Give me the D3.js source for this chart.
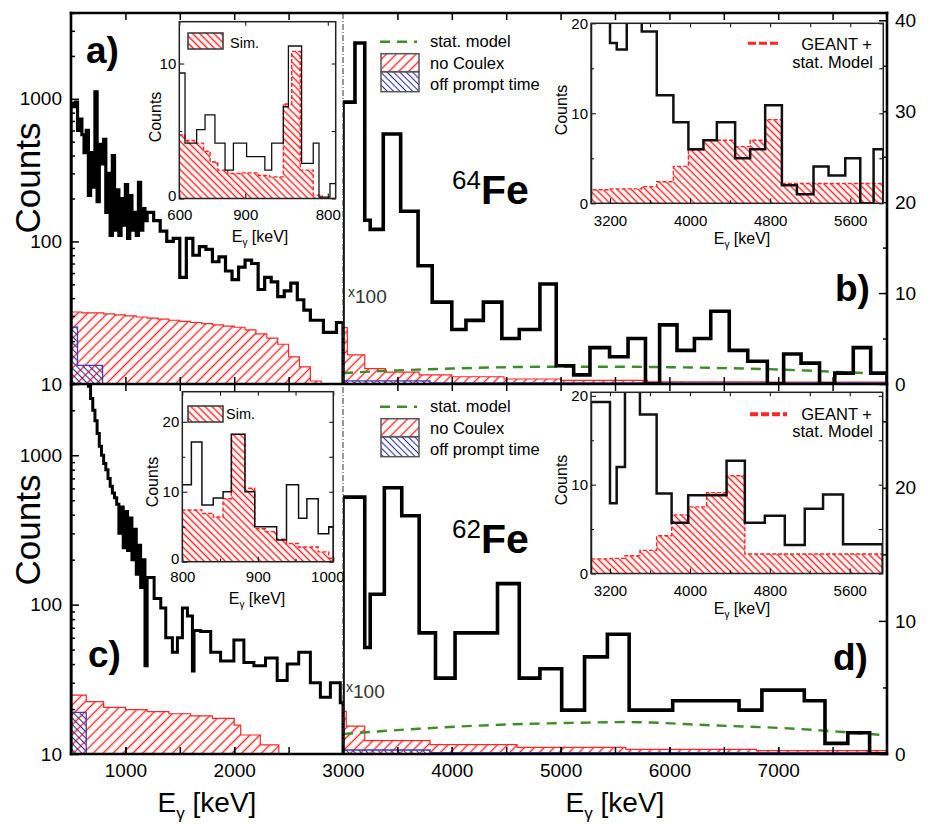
<!DOCTYPE html>
<html><head><meta charset="utf-8">
<script src="https://cdn.jsdelivr.net/npm/d3@7"></script>
<style>body{margin:0;background:#fff}svg{display:block}</style>
</head><body><svg id="c" width="931" height="824"></svg>
<script>
// ================= DATA =================
// Panel a) 64Fe, 500-3000 keV, log counts
const aBlackEdges = [500,520,540,560,580,600,620,640,660,680,700,720,740,760,780,800,820,840,860,880,900,920,940,960,980,1000,1020,1040,1060,1080,1100,1120,1140,1160,1180,1200,
  1260,1320,1380,1440,1500,1560,1620,1680,1740,1800,1860,1920,1980,2040,2100,2160,2220,2280,2340,2400,2460,2520,2580,2640,2700,2760,2820,2880,2940,3000];
const aBlackCounts = [930,880,950,600,720,560,420,600,210,420,240,1120,190,480,350,520,160,300,110,400,120,230,110,200,130,250,105,210,120,160,110,260,120,170,140,
  160,140,118,100,105,56,105,80,92,88,72,78,62,54,66,74,70,46,56,52,41,45,51,39,33,28,28,23,23,27];
const aRedEdges = [500,600,700,800,900,1000,1100,1200,1300,1400,1500,1600,1700,1800,1900,2000,2100,2200,2300,2400,2500,2600,2700,2800];
const aRedCounts = [32,31.5,31.5,31,30.5,30,29.5,29,28.5,28,27.5,27,26.5,26,25.5,25,24,22.5,21,19,15.5,13.2,10.5];
const aBlueEdges = [500,560,790];
const aBlueCounts = [25,13.5];

// Panel b) 64Fe, 3000-8000 keV, linear (x100)
const bBlackEdges = [3000,3110,3200,3250,3370,3530,3690,3820,4000,4130,4290,4460,4620,4810,4960,5120,5270,5450,5620,5780,5910,6070,6230,6380,6550,6720,6900,7050,7210,7380,7520,7690,7850,8000];
const bBlackCounts = [31,37.5,18,17,27.5,19,13,9,6,7,9,5,6,11,2,1,4,3,5,0,6.5,3.7,5,8,3.7,2.5,0,3.3,2.3,0,1.2,4,1.2];
const bRedEdges = [3000,3040,3200,3390,3700,4000,4480,5000,5800,6900,8000];
const bRedCounts = [6.2,3.2,1.7,1.3,1.0,0.8,0.55,0.4,0.25,0.2];
const bBlueEdges = [3000,3800,8000];
const bBlueCounts = [0.35,0.12];
const bStatE = [3000,3500,4000,4500,5000,5500,6000,6500,7000,7500,8000];
const bStatV = [1.2,1.5,1.7,1.85,1.9,1.9,1.85,1.75,1.6,1.35,1.1];

// Panel c) 62Fe, 500-3000 keV, log counts
const cBlackEdges = [500,520,540,560,580,600,620,640,660,680,700,720,740,760,780,800,820,840,860,880,900,920,940,960,980,1000,1020,1040,1060,1080,1100,1120,1140,1160,1180,1200,
  1264,1325,1371,1432,1478,1524,1570,1616,1631,1692,1784,1875,1997,2089,2181,2288,2395,2487,2593,2700,2792,2884,2975,3000];
const cBlackCounts = [9000,8000,7000,6000,5200,4500,3900,3400,2900,2400,2000,1700,1400,1150,1000,880,800,700,620,560,520,470,300,450,240,420,230,380,200,320,160,250,130,200,39,
  152,110,95,60,48,60,95,84,36,67,66,48,42,58,41,39,44,31,40,48,30,24,30,22];
const cRedEdges = [500,640,800,1000,1200,1400,1600,1800,2000,2060,2240,2410];
const cRedCounts = [24.8,22.4,20.5,19.8,19.2,18.6,18,17.3,15.6,13.4,11.5];
const cBlueEdges = [500,640];
const cBlueCounts = [19];

// Panel d) 62Fe, 3000-8000 keV, linear (x100)
const dBlackEdges = [3000,3200,3250,3380,3540,3700,3850,4030,4420,4620,4810,5010,5220,5430,5630,6030,6640,6850,7240,7430,7640,7840,8000];
const dBlackCounts = [19.3,8,12,20,17.9,9.1,5.7,9.1,12.8,5.7,6.4,3.3,7.3,9,3.3,4,3.3,4.8,4,0.8,1.6,0];
const dRedEdges = [3000,3030,3200,3800,4600,5600,6800,8000];
const dRedCounts = [3.2,2.1,1.0,0.7,0.5,0.35,0.25];
const dBlueEdges = [3000,3800,8000];
const dBlueCounts = [0.3,0.1];
const dStatE = [3000,3700,4450,5200,5600,6400,7150,7600,8000];
const dStatV = [1.5,1.9,2.2,2.35,2.4,2.15,1.9,1.65,1.4];

// Insets
const iaBlackEdges = [600,626,679,717,762,808,846,906,989,1020,1073,1096,1156,1209,1235,1285,1311];
const iaBlackCounts = [9.3,4.1,5.1,6.2,4.1,2.1,4.1,3.1,2.1,4.1,6.8,11.3,2.6,4.1,0.1,1.1];
const iaRedEdges = [600,626,670,710,740,775,820,880,960,1010,1073,1111,1150,1209,1250,1311];
const iaRedCounts = [4.7,4.3,4.1,3.5,2.7,2.1,1.85,1.9,1.7,1.6,7.0,10.9,2.1,0.25,0];
const iaTickValues = [600,900,1275];
const iaTickLabels = ["600","900","800"];

const ibBlackEdges = [3010,3200,3267,3367,3517,3667,3833,3983,4133,4267,4450,4600,4750,4917,5067,5233,5383,5550,5700,5833,5930];
const ibBlackCounts = [25,17.8,17.1,25,19.1,12,9,6,7,9,5,6,10.9,2,1,4.1,3.1,5,0,6];
const ibRedEdges = [3010,3200,3517,3667,3833,3983,4133,4450,4600,4750,4917,5930];
const ibRedCounts = [1.5,1.6,1.85,2.4,4.1,5.9,7.0,6.3,7.0,9.3,2.2];

const icBlackEdges = [800,812,826,841,854,865,883,896,925,938,954,965,980,994,1000];
const icBlackCounts = [11,17.1,8.1,9.1,10,18.2,10,5,3.1,11,6.2,9,4,5];
const icRedEdges = [800,826,841,854,865,883,896,910,925,938,954,980,994,1000];
const icRedCounts = [7.4,6.9,6.4,9.0,18.2,10.5,4.7,4.3,3.2,2.6,2.1,1.4,0.5];

const idBlackEdges = [3010,3200,3267,3350,3500,3667,3817,3983,4367,4550,4750,4950,5150,5333,5533,5930];
const idBlackCounts = [19.3,7.9,12,25,17.9,9,5.7,8.8,12.7,5.7,6.5,3.2,7.3,8.9,3.3];
const idRedEdges = [3010,3200,3350,3500,3667,3817,3983,4167,4367,4550,5930];
const idRedCounts = [1.65,1.7,2.0,2.6,4.25,6.6,7.5,9.1,11.0,2.2];

const logTicks = [10,100,1000];
const logMinorTop = [20,30,40,50,60,70,80,90,200,300,400,500,600,700,800,900,2000,3000,4000];
const logMinorBot = [20,30,40,50,60,70,80,90,200,300,400,500,600,700,800,900,2000,3000];
const leftXLabeled = [1000,2000,3000];
const leftXTicks = [1000,1500,2000,2500];
const rightXLabeled = [4000,5000,6000,7000];
const rightXTicks = [3500,4000,4500,5000,5500,6000,6500,7000,7500];
const bRightTicks = [0,10,20,30,40];
const dRightTicks = [0,10,20];

// ================= DRAW =================
const FF = "'Liberation Sans', Arial, Helvetica, sans-serif";
const RED = "#ff2626", BLUE = "#2e2e9c", GREEN = "#3f8a2a";
const svg = d3.select("#c").attr("font-family", FF);
const X0 = 71, XM = 343, X1 = 887, YT = 13, YMID = 384, YB = 754;

const xL = d3.scaleLinear().domain([500,3000]).range([X0,XM]);
const xR = d3.scaleLinear().domain([3000,8000]).range([XM,X1]);
const yA = d3.scaleLog().domain([10,4000]).range([YMID,YT]);
const yB = d3.scaleLinear().domain([0,40.8]).range([YMID,YT]);
const yC = d3.scaleLog().domain([10,3000]).range([YB,YMID]);
const yD = d3.scaleLinear().domain([0,27.8]).range([YB,YMID]);

const defs = svg.append("defs");
function hatch(id, color, sp, angle, w){
  const p = defs.append("pattern").attr("id",id).attr("patternUnits","userSpaceOnUse")
    .attr("width",sp).attr("height",sp).attr("patternTransform",`rotate(${angle})`);
  p.append("line").attr("x1",sp/2).attr("y1",-1).attr("x2",sp/2).attr("y2",sp+1)
    .attr("stroke",color).attr("stroke-width",w);
}
hatch("hRed", RED, 7, 45, 1.4);
hatch("hBlue", BLUE, 4.5, -45, 1.1);
hatch("hInset", RED, 5, -45, 1.5);

let clipN = 0;
function clip(x0,y0,x1,y1){
  const id = "cl"+(clipN++);
  defs.append("clipPath").attr("id",id).append("rect").attr("x",x0).attr("y",y0).attr("width",x1-x0).attr("height",y1-y0);
  return `url(#${id})`;
}

function histPath(x, y, edges, vals, base){
  const p = d3.path();
  p.moveTo(x(edges[0]), base);
  vals.forEach((v,i)=>{ const yy = Math.max(-2000, Math.min(2000, y(v))); p.lineTo(x(edges[i]), yy); p.lineTo(x(edges[i+1]), yy); });
  p.lineTo(x(edges[edges.length-1]), base);
  return p.toString();
}
function safeLog(y){ return v => v <= 0 ? 5000 : y(v); }

function panel(o){
  const g = svg.append("g").attr("clip-path", clip(o.x0, o.y0, o.x1, o.y1));
  const yy = o.log ? safeLog(o.y) : o.y;
  g.append("path").attr("d", histPath(o.x, yy, o.redE, o.redV, o.y1+2)).attr("fill","url(#hRed)")
    .attr("stroke", RED).attr("stroke-width",1.2);
  g.append("path").attr("d", histPath(o.x, yy, o.blueE, o.blueV, o.y1+2)).attr("fill","url(#hBlue)")
    .attr("stroke", "#3d3db8").attr("stroke-width",1.3);
  if (o.statE){
    const line = d3.line().x((d,i)=>o.x(o.statE[i])).y(d=>o.y(d)).curve(d3.curveMonotoneX);
    g.append("path").attr("d", line(o.statV)).attr("fill","none").attr("stroke",GREEN)
      .attr("stroke-width",2.4).attr("stroke-dasharray","10,7");
  }
  g.append("path").attr("d", histPath(o.x, yy, o.blackE, o.blackV, o.y1+2)).attr("fill","none")
    .attr("stroke","#000").attr("stroke-width",o.lw).attr("stroke-linejoin","miter");
}

panel({x:xL, y:yA, log:true, x0:X0, x1:XM, y0:YT, y1:YMID, redE:aRedEdges, redV:aRedCounts, blueE:aBlueEdges, blueV:aBlueCounts, blackE:aBlackEdges, blackV:aBlackCounts, lw:3.2});
panel({x:xR, y:yB, log:false, x0:XM, x1:X1, y0:YT, y1:YMID, redE:bRedEdges, redV:bRedCounts, blueE:bBlueEdges, blueV:bBlueCounts, blackE:bBlackEdges, blackV:bBlackCounts, statE:bStatE, statV:bStatV, lw:3.6});
panel({x:xL, y:yC, log:true, x0:X0, x1:XM, y0:YMID, y1:YB, redE:cRedEdges, redV:cRedCounts, blueE:cBlueEdges, blueV:cBlueCounts, blackE:cBlackEdges, blackV:cBlackCounts, lw:3});
panel({x:xR, y:yD, log:false, x0:XM, x1:X1, y0:YMID, y1:YB, redE:dRedEdges, redV:dRedCounts, blueE:dBlueEdges, blueV:dBlueCounts, blackE:dBlackEdges, blackV:dBlackCounts, statE:dStatE, statV:dStatV, lw:3.6});

// separator
svg.append("line").attr("x1",XM).attr("x2",XM).attr("y1",YT).attr("y2",YB)
  .attr("stroke","#333").attr("stroke-width",1).attr("stroke-dasharray","6,2,1,2");

// ---- axes ----
function styleAxis(g, fs){
  g.select(".domain").remove();
  g.selectAll("line").attr("stroke","#000").attr("stroke-width",1.5);
  g.selectAll("text").attr("font-family",FF).attr("font-size",fs||19).attr("fill","#000");
}
function addAxis(gen, tx, ty, fs){
  return svg.append("g").attr("transform",`translate(${tx},${ty})`).call(gen).call(g=>styleAxis(g,fs));
}
addAxis(d3.axisLeft(yA).tickValues(logTicks).tickFormat(d3.format("d")).tickSizeInner(-8).tickSizeOuter(0).tickPadding(9), X0, 0);
addAxis(d3.axisLeft(yA).tickValues(logMinorTop).tickFormat("").tickSizeInner(-4).tickSizeOuter(0), X0, 0);
addAxis(d3.axisLeft(yC).tickValues(logTicks).tickFormat(d3.format("d")).tickSizeInner(-8).tickSizeOuter(0).tickPadding(9), X0, 0);
addAxis(d3.axisLeft(yC).tickValues(logMinorBot).tickFormat("").tickSizeInner(-4).tickSizeOuter(0), X0, 0);
addAxis(d3.axisRight(yB).tickValues(bRightTicks).tickSizeInner(-8).tickSizeOuter(0).tickPadding(8), X1, 0);
addAxis(d3.axisRight(yB).tickValues([5,15,25,35]).tickFormat("").tickSizeInner(-4).tickSizeOuter(0), X1, 0);
addAxis(d3.axisRight(yD).tickValues(dRightTicks).tickSizeInner(-8).tickSizeOuter(0).tickPadding(8), X1, 0);
addAxis(d3.axisRight(yD).tickValues([5,15,25]).tickFormat("").tickSizeInner(-4).tickSizeOuter(0), X1, 0);
addAxis(d3.axisBottom(xL).tickValues(leftXLabeled).tickFormat(d3.format("d")).tickSizeInner(-7).tickSizeOuter(0).tickPadding(9.5), 0, YB);
addAxis(d3.axisBottom(xL).tickValues(leftXTicks).tickFormat("").tickSizeInner(-7).tickSizeOuter(0), 0, YB);
addAxis(d3.axisBottom(xR).tickValues(rightXLabeled).tickFormat(d3.format("d")).tickSizeInner(-7).tickSizeOuter(0).tickPadding(9.5), 0, YB);
addAxis(d3.axisBottom(xR).tickValues(rightXTicks).tickFormat("").tickSizeInner(-7).tickSizeOuter(0), 0, YB);
[[d3.axisTop, YT],[d3.axisBottom, YMID],[d3.axisTop, YMID]].forEach(([f,yy])=>{
  addAxis(f(xL).tickValues(leftXTicks).tickFormat("").tickSizeInner(-7).tickSizeOuter(0), 0, yy);
  addAxis(f(xR).tickValues(rightXTicks).tickFormat("").tickSizeInner(-7).tickSizeOuter(0), 0, yy);
});
const frame = svg.append("g").attr("stroke","#000").attr("stroke-width",2.6).attr("stroke-linecap","square");
frame.append("line").attr("x1",X0).attr("x2",X0).attr("y1",YT).attr("y2",YB);
frame.append("line").attr("x1",X1).attr("x2",X1).attr("y1",YT).attr("y2",YB);
[YT,YMID,YB].forEach(yy=>frame.append("line").attr("x1",X0).attr("x2",X1).attr("y1",yy).attr("y2",yy));

// ---- insets ----
function inset(o){
  const x = d3.scaleLinear().domain(o.xd).range([o.x0,o.x1]);
  const y = d3.scaleLinear().domain(o.yd).range([o.y1,o.y0]);
  svg.append("rect").attr("x",o.x0).attr("y",o.y0).attr("width",o.x1-o.x0).attr("height",o.y1-o.y0).attr("fill","#fff");
  const g = svg.append("g").attr("clip-path", clip(o.x0,o.y0,o.x1,o.y1));
  g.append("path").attr("d", histPath(x, y, o.redE, o.redV, o.y1+3)).attr("fill","url(#hInset)")
    .attr("stroke",RED).attr("stroke-width",1.4).attr("stroke-dasharray","4,2");
  g.append("path").attr("d", histPath(x, y, o.blackE, o.blackV, o.y1+3)).attr("fill","none")
    .attr("stroke","#111").attr("stroke-width",o.lw);
  const fs = 15;
  const ax = (gen, tx, ty) => svg.append("g").attr("transform",`translate(${tx},${ty})`).call(gen).call(gg=>styleAxis(gg,fs))
     .call(gg=>gg.selectAll("line").attr("stroke-width",1));
  const yl = ax(d3.axisLeft(y).tickValues(o.yTicks).tickFormat(d3.format("d")).tickSizeInner(-5).tickSizeOuter(0).tickPadding(3), o.x0, 0);
  yl.selectAll("text").filter(d=>d===0).attr("dy", o.zeroDy || "0.32em");
  ax(d3.axisLeft(y).tickValues(o.yMinor).tickFormat("").tickSizeInner(-3).tickSizeOuter(0), o.x0, 0);
  ax(d3.axisRight(y).tickValues(o.yTicks.concat(o.yMinor)).tickFormat("").tickSizeInner(-4).tickSizeOuter(0), o.x1, 0);
  const xb = ax(d3.axisBottom(x).tickValues(o.xTicks).tickFormat((d,i)=>o.xLabels[i]).tickSizeInner(-5).tickSizeOuter(0).tickPadding(o.xPad), 0, o.y1);
  if (o.lastDx) xb.selectAll("text").filter((d,i,n)=>i===n.length-1).attr("dx", o.lastDx);
  ax(d3.axisTop(x).tickValues(o.xTicks.concat(o.xMinor)).tickFormat("").tickSizeInner(-4).tickSizeOuter(0), 0, o.y0);
  ax(d3.axisBottom(x).tickValues(o.xMinor).tickFormat("").tickSizeInner(-3).tickSizeOuter(0), 0, o.y1);
  svg.append("rect").attr("x",o.x0).attr("y",o.y0).attr("width",o.x1-o.x0).attr("height",o.y1-o.y0)
    .attr("fill","none").attr("stroke","#222").attr("stroke-width",o.frameW);
  svg.append("text").attr("transform",`translate(${o.cx},${o.cy}) rotate(-90)`).attr("text-anchor","middle")
    .attr("dominant-baseline","central").attr("font-size",16).text("Counts");
  const t = svg.append("text").attr("x",o.ex).attr("y",o.ey).attr("text-anchor","middle").attr("font-size",16);
  t.append("tspan").text("E");
  t.append("tspan").attr("font-size",10).attr("dy",4).text("γ");
  t.append("tspan").attr("dy",-4).text(" [keV]");
  o.legend && o.legend();
}

function simLegend(bx, by, tx, ty){
  return ()=>{
    svg.append("rect").attr("x",bx).attr("y",by).attr("width",35).attr("height",16).attr("fill","url(#hInset)")
      .attr("stroke","#333").attr("stroke-width",1.5);
    svg.append("text").attr("x",tx).attr("y",ty).attr("font-size",14.5).text("Sim.");
  };
}
function geantLegend(lx0, lx1, ly, lw, t1y, t2y){
  return ()=>{
    svg.append("line").attr("x1",lx0).attr("x2",lx1).attr("y1",ly).attr("y2",ly).attr("stroke",RED)
      .attr("stroke-width",lw).attr("stroke-dasharray","8,3");
    svg.append("text").attr("x",872).attr("y",t1y).attr("text-anchor","end").attr("font-size",16.5).text("GEANT +");
    svg.append("text").attr("x",873).attr("y",t2y).attr("text-anchor","end").attr("font-size",16.5).text("stat. Model");
  };
}

inset({x0:179.3, x1:335.7, y0:21.7, y1:198.5, xd:[600,1311], yd:[0,13.1], redE:iaRedEdges, redV:iaRedCounts,
  blackE:iaBlackEdges, blackV:iaBlackCounts, lw:1.3, frameW:1.5, yTicks:[0,10], yMinor:[5], xTicks:iaTickValues, xLabels:iaTickLabels,
  xMinor:[], xPad:11, zeroDy:"0.1em", cx:155, cy:117, ex:260, ey:242, legend:simLegend(188,33,230,48)});
inset({x0:591, x1:883.3, y0:23.3, y1:203.3, xd:[3010,5930], yd:[0,20], redE:ibRedEdges, redV:ibRedCounts,
  blackE:ibBlackEdges, blackV:ibBlackCounts, lw:2.5, frameW:1.5, yTicks:[0,10,20], yMinor:[5,15], xTicks:[3200,4000,4800,5600],
  xLabels:["3200","4000","4800","5600"], xMinor:[3600,4400,5200], xPad:12, cx:561, cy:110, ex:742, ey:244,
  legend:geantLegend(748,781,43.3,3,49.5,67.5)});
inset({x0:182.3, x1:333.3, y0:391.7, y1:561.7, xd:[800,1000], yd:[0,24.3], redE:icRedEdges, redV:icRedCounts,
  blackE:icBlackEdges, blackV:icBlackCounts, lw:1.5, frameW:1.5, yTicks:[0,10,20], yMinor:[5,15], xTicks:[800,900,1000],
  xLabels:["800","900","1000"], xMinor:[850,950], xPad:10, zeroDy:"0.15em", lastDx:-6, cx:152, cy:482, ex:257, ey:604, legend:simLegend(188,406,226,419)});
inset({x0:591, x1:882.7, y0:392.3, y1:573.5, xd:[3010,5930], yd:[0,20.4], redE:idRedEdges, redV:idRedCounts,
  blackE:idBlackEdges, blackV:idBlackCounts, lw:2.5, frameW:1.5, yTicks:[0,10,20], yMinor:[5,15], xTicks:[3200,4000,4800,5600],
  xLabels:["3200","4000","4800","5600"], xMinor:[3600,4400,5200], xPad:12, cx:561, cy:480, ex:742, ey:614,
  legend:geantLegend(750,787,414.3,4,419.5,437)});

// ---- main legends ----
function mainLegend(ly){
  svg.append("line").attr("x1",380).attr("x2",417).attr("y1",ly).attr("y2",ly).attr("stroke",GREEN)
    .attr("stroke-width",2.6).attr("stroke-dasharray","10,7");
  svg.append("text").attr("x",430).attr("y",ly+5.5).attr("font-size",16.5).text("stat. model");
  svg.append("rect").attr("x",381).attr("y",ly+12).attr("width",38).attr("height",18).attr("fill","url(#hRed)")
    .attr("stroke","#555").attr("stroke-width",1.5);
  svg.append("text").attr("x",430).attr("y",ly+27).attr("font-size",16.5).text("no Coulex");
  svg.append("rect").attr("x",381).attr("y",ly+30).attr("width",38).attr("height",20).attr("fill","url(#hBlue)")
    .attr("stroke","#555").attr("stroke-width",1.5);
  svg.append("text").attr("x",430).attr("y",ly+48.5).attr("font-size",16.5).text("off prompt time");
}
mainLegend(41.7);
mainLegend(406.7);

// ---- texts ----
function boldLabel(t, x, y){ svg.append("text").attr("x",x).attr("y",y).attr("font-size",37).attr("font-weight","bold").text(t); }
boldLabel("a)", 86, 63);
boldLabel("b)", 835, 301);
boldLabel("c)", 88, 667);
boldLabel("d)", 833, 670);

function isotope(mass, x, y){
  const t = svg.append("text").attr("x",x).attr("y",y);
  t.append("tspan").attr("font-size",26).attr("dy",-15).text(mass);
  t.append("tspan").attr("font-size",41).attr("font-weight","bold").attr("dy",15).text("Fe");
}
isotope("64", 452, 204);
isotope("62", 452, 553);

function times100(x, y){
  const t = svg.append("text").attr("x",x).attr("y",y).attr("fill","#333");
  t.append("tspan").attr("font-size",14).attr("dy",-6).text("x");
  t.append("tspan").attr("font-size",19).attr("dy",6).text("100");
}
times100(348, 303);
times100(346, 698);

function counts(cy){
  svg.append("text").attr("transform",`translate(27,${cy}) rotate(-90)`).attr("text-anchor","middle")
    .attr("dominant-baseline","central").attr("font-size",35).text("Counts");
}
counts(178); counts(530);

function eAxis(cx){
  const t = svg.append("text").attr("x",cx).attr("y",812).attr("text-anchor","middle").attr("font-size",28);
  t.append("tspan").text("E");
  t.append("tspan").attr("font-size",17).attr("dy",7).text("γ");
  t.append("tspan").attr("dy",-7).text(" [keV]");
}
eAxis(207); eAxis(615);
</script></body></html>
